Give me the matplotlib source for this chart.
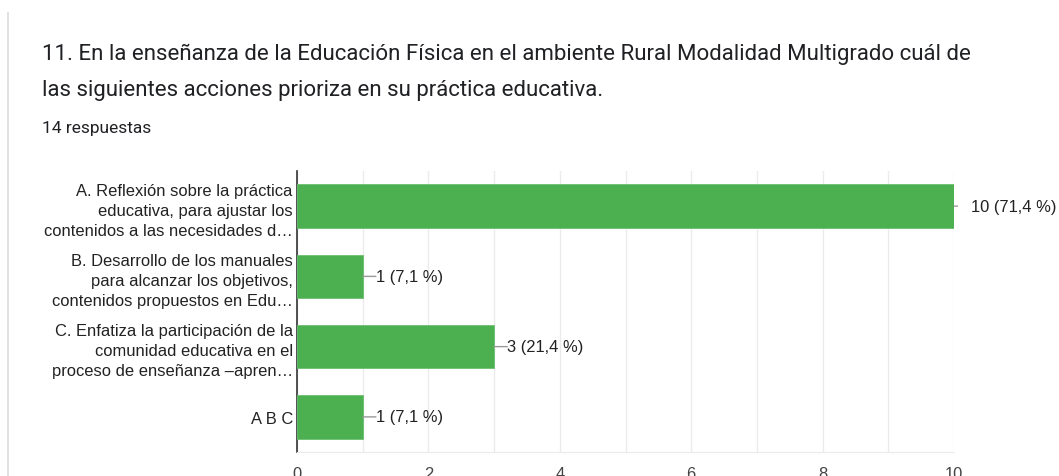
import matplotlib
matplotlib.use('Agg')
import matplotlib.pyplot as plt
from matplotlib.lines import Line2D

# Data
categories = [
    "A. Reflexión sobre la práctica\neducativa, para ajustar los\ncontenidos a las necesidades d…",
    "B. Desarrollo de los manuales\npara alcanzar los objetivos,\ncontenidos propuestos en Edu…",
    "C. Enfatiza la participación de la\ncomunidad educativa en el\nproceso de enseñanza –apren…",
    "A B C",
]
counts = [10, 1, 3, 1]
value_labels = ["10 (71,4 %)", "1 (7,1 %)", "3 (21,4 %)", "1 (7,1 %)"]
x_ticks = [0, 2, 4, 6, 8, 10]

title = ("11. En la enseñanza de la Educación Física en el ambiente Rural Modalidad Multigrado cuál de\n"
         "las siguientes acciones prioriza en su práctica educativa.")
subtitle = "14 respuestas"

W, H = 1059, 477
fig = plt.figure(figsize=(W / 100, H / 100), dpi=100)
fig.patch.set_facecolor('white')

# card border on the left
fig.add_artist(Line2D([8 / W, 8 / W], [0, 1 - 14 / H], color='#dadce0', lw=1.2))

fig.text(42 / W, 1 - 72.5 / H, title, fontsize=16, family='Roboto', color='#202124',
         va='center', ha='left', linespacing=1.9)
fig.text(42 / W, 1 - 128 / H, subtitle, fontsize=12.5, family='Roboto', color='#202124',
         va='center', ha='left')

chart_font = 'Liberation Sans'
fs = 11.9

left, right, top, bottom = 297, 954, 172, 453
ax = fig.add_axes([left / W, 1 - bottom / H, (right - left) / W, (bottom - top) / H])

y = list(range(len(categories)))
ax.barh(y, counts, height=0.62, color='#4caf50', edgecolor='#6cc070', linewidth=0.6, zorder=3)
ax.set_ylim(len(categories) - 0.5, -0.5)
ax.set_xlim(0, 10)

ax.set_xticks(x_ticks)
ax.set_xticks(range(0, 11), minor=True)
ax.grid(axis='x', which='both', color='#ebebeb', lw=1, zorder=0)
ax.tick_params(axis='x', which='both', length=0, pad=10, labelsize=fs, labelcolor='#444444')
ax.set_yticks(y)
ax.set_yticklabels(categories, fontsize=fs, color='#222222', linespacing=1.43,
                   family=chart_font)
ax.tick_params(axis='y', length=0, pad=3)
for lbl in ax.get_xticklabels():
    lbl.set_family(chart_font)

for side in ['top', 'right']:
    ax.spines[side].set_visible(False)
ax.spines['bottom'].set_color('#ebebeb')
ax.spines['left'].set_color('#333333')
ax.spines['left'].set_linewidth(1.2)
ax.set_axisbelow(True)

vmax = max(counts)
for i, (c, txt) in enumerate(zip(counts, value_labels)):
    if c == vmax:
        line_len, gap = 2.5, 12
    else:
        line_len, gap = 9.5, 9.5
    ax.annotate('', xy=(c, i), xytext=(line_len, 0), textcoords='offset points',
                arrowprops=dict(arrowstyle='-', color='#999999', lw=1, shrinkA=0, shrinkB=0))
    ax.annotate(txt, xy=(c, i), xytext=(gap, 0), textcoords='offset points',
                va='center', ha='left', fontsize=fs, color='#222222',
                family=chart_font, annotation_clip=False)

fig.savefig('out.png', dpi=100, facecolor='white')
